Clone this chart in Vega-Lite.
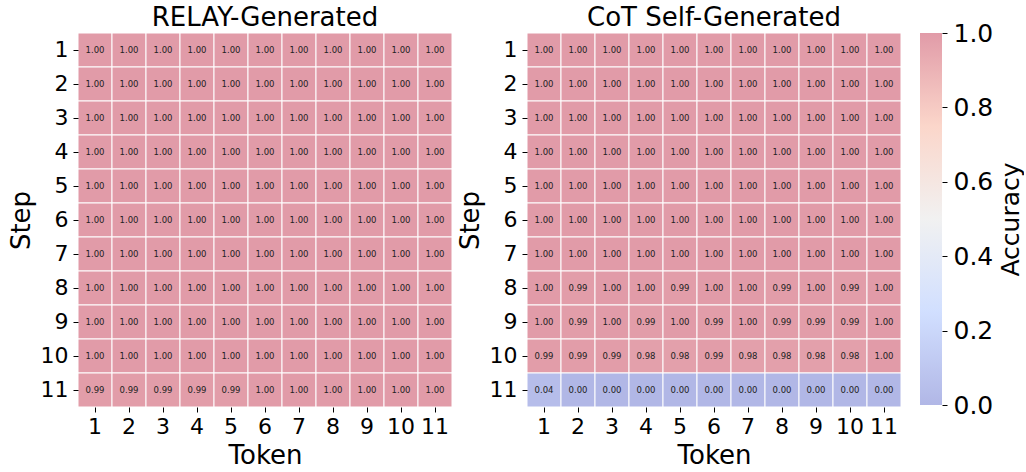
{
  "$schema": "https://vega.github.io/schema/vega-lite/v6.json",
  "background": "white",
  "padding": {"left": 8, "top": -4, "right": 0, "bottom": 0},
  "config": {
    "font": "DejaVu Sans",
    "view": {"stroke": null},
    "title": {"fontSize": 26, "fontWeight": "normal", "color": "black", "offset": 2},
    "axis": {"labelFontSize": 22, "titleFontSize": 26, "titleFontWeight": "normal", "labelColor": "black", "titleColor": "black", "tickColor": "black", "domain": false, "tickSize": 5, "labelPadding": 5}
  },
  "data": {"values": [
    {"p":"RELAY-Generated","s":1,"t":1,"v":1},{"p":"RELAY-Generated","s":1,"t":2,"v":1},{"p":"RELAY-Generated","s":1,"t":3,"v":1},{"p":"RELAY-Generated","s":1,"t":4,"v":1},{"p":"RELAY-Generated","s":1,"t":5,"v":1},{"p":"RELAY-Generated","s":1,"t":6,"v":1},{"p":"RELAY-Generated","s":1,"t":7,"v":1},{"p":"RELAY-Generated","s":1,"t":8,"v":1},{"p":"RELAY-Generated","s":1,"t":9,"v":1},{"p":"RELAY-Generated","s":1,"t":10,"v":1},{"p":"RELAY-Generated","s":1,"t":11,"v":1},
    {"p":"RELAY-Generated","s":2,"t":1,"v":1},{"p":"RELAY-Generated","s":2,"t":2,"v":1},{"p":"RELAY-Generated","s":2,"t":3,"v":1},{"p":"RELAY-Generated","s":2,"t":4,"v":1},{"p":"RELAY-Generated","s":2,"t":5,"v":1},{"p":"RELAY-Generated","s":2,"t":6,"v":1},{"p":"RELAY-Generated","s":2,"t":7,"v":1},{"p":"RELAY-Generated","s":2,"t":8,"v":1},{"p":"RELAY-Generated","s":2,"t":9,"v":1},{"p":"RELAY-Generated","s":2,"t":10,"v":1},{"p":"RELAY-Generated","s":2,"t":11,"v":1},
    {"p":"RELAY-Generated","s":3,"t":1,"v":1},{"p":"RELAY-Generated","s":3,"t":2,"v":1},{"p":"RELAY-Generated","s":3,"t":3,"v":1},{"p":"RELAY-Generated","s":3,"t":4,"v":1},{"p":"RELAY-Generated","s":3,"t":5,"v":1},{"p":"RELAY-Generated","s":3,"t":6,"v":1},{"p":"RELAY-Generated","s":3,"t":7,"v":1},{"p":"RELAY-Generated","s":3,"t":8,"v":1},{"p":"RELAY-Generated","s":3,"t":9,"v":1},{"p":"RELAY-Generated","s":3,"t":10,"v":1},{"p":"RELAY-Generated","s":3,"t":11,"v":1},
    {"p":"RELAY-Generated","s":4,"t":1,"v":1},{"p":"RELAY-Generated","s":4,"t":2,"v":1},{"p":"RELAY-Generated","s":4,"t":3,"v":1},{"p":"RELAY-Generated","s":4,"t":4,"v":1},{"p":"RELAY-Generated","s":4,"t":5,"v":1},{"p":"RELAY-Generated","s":4,"t":6,"v":1},{"p":"RELAY-Generated","s":4,"t":7,"v":1},{"p":"RELAY-Generated","s":4,"t":8,"v":1},{"p":"RELAY-Generated","s":4,"t":9,"v":1},{"p":"RELAY-Generated","s":4,"t":10,"v":1},{"p":"RELAY-Generated","s":4,"t":11,"v":1},
    {"p":"RELAY-Generated","s":5,"t":1,"v":1},{"p":"RELAY-Generated","s":5,"t":2,"v":1},{"p":"RELAY-Generated","s":5,"t":3,"v":1},{"p":"RELAY-Generated","s":5,"t":4,"v":1},{"p":"RELAY-Generated","s":5,"t":5,"v":1},{"p":"RELAY-Generated","s":5,"t":6,"v":1},{"p":"RELAY-Generated","s":5,"t":7,"v":1},{"p":"RELAY-Generated","s":5,"t":8,"v":1},{"p":"RELAY-Generated","s":5,"t":9,"v":1},{"p":"RELAY-Generated","s":5,"t":10,"v":1},{"p":"RELAY-Generated","s":5,"t":11,"v":1},
    {"p":"RELAY-Generated","s":6,"t":1,"v":1},{"p":"RELAY-Generated","s":6,"t":2,"v":1},{"p":"RELAY-Generated","s":6,"t":3,"v":1},{"p":"RELAY-Generated","s":6,"t":4,"v":1},{"p":"RELAY-Generated","s":6,"t":5,"v":1},{"p":"RELAY-Generated","s":6,"t":6,"v":1},{"p":"RELAY-Generated","s":6,"t":7,"v":1},{"p":"RELAY-Generated","s":6,"t":8,"v":1},{"p":"RELAY-Generated","s":6,"t":9,"v":1},{"p":"RELAY-Generated","s":6,"t":10,"v":1},{"p":"RELAY-Generated","s":6,"t":11,"v":1},
    {"p":"RELAY-Generated","s":7,"t":1,"v":1},{"p":"RELAY-Generated","s":7,"t":2,"v":1},{"p":"RELAY-Generated","s":7,"t":3,"v":1},{"p":"RELAY-Generated","s":7,"t":4,"v":1},{"p":"RELAY-Generated","s":7,"t":5,"v":1},{"p":"RELAY-Generated","s":7,"t":6,"v":1},{"p":"RELAY-Generated","s":7,"t":7,"v":1},{"p":"RELAY-Generated","s":7,"t":8,"v":1},{"p":"RELAY-Generated","s":7,"t":9,"v":1},{"p":"RELAY-Generated","s":7,"t":10,"v":1},{"p":"RELAY-Generated","s":7,"t":11,"v":1},
    {"p":"RELAY-Generated","s":8,"t":1,"v":1},{"p":"RELAY-Generated","s":8,"t":2,"v":1},{"p":"RELAY-Generated","s":8,"t":3,"v":1},{"p":"RELAY-Generated","s":8,"t":4,"v":1},{"p":"RELAY-Generated","s":8,"t":5,"v":1},{"p":"RELAY-Generated","s":8,"t":6,"v":1},{"p":"RELAY-Generated","s":8,"t":7,"v":1},{"p":"RELAY-Generated","s":8,"t":8,"v":1},{"p":"RELAY-Generated","s":8,"t":9,"v":1},{"p":"RELAY-Generated","s":8,"t":10,"v":1},{"p":"RELAY-Generated","s":8,"t":11,"v":1},
    {"p":"RELAY-Generated","s":9,"t":1,"v":1},{"p":"RELAY-Generated","s":9,"t":2,"v":1},{"p":"RELAY-Generated","s":9,"t":3,"v":1},{"p":"RELAY-Generated","s":9,"t":4,"v":1},{"p":"RELAY-Generated","s":9,"t":5,"v":1},{"p":"RELAY-Generated","s":9,"t":6,"v":1},{"p":"RELAY-Generated","s":9,"t":7,"v":1},{"p":"RELAY-Generated","s":9,"t":8,"v":1},{"p":"RELAY-Generated","s":9,"t":9,"v":1},{"p":"RELAY-Generated","s":9,"t":10,"v":1},{"p":"RELAY-Generated","s":9,"t":11,"v":1},
    {"p":"RELAY-Generated","s":10,"t":1,"v":1},{"p":"RELAY-Generated","s":10,"t":2,"v":1},{"p":"RELAY-Generated","s":10,"t":3,"v":1},{"p":"RELAY-Generated","s":10,"t":4,"v":1},{"p":"RELAY-Generated","s":10,"t":5,"v":1},{"p":"RELAY-Generated","s":10,"t":6,"v":1},{"p":"RELAY-Generated","s":10,"t":7,"v":1},{"p":"RELAY-Generated","s":10,"t":8,"v":1},{"p":"RELAY-Generated","s":10,"t":9,"v":1},{"p":"RELAY-Generated","s":10,"t":10,"v":1},{"p":"RELAY-Generated","s":10,"t":11,"v":1},
    {"p":"RELAY-Generated","s":11,"t":1,"v":0.99},{"p":"RELAY-Generated","s":11,"t":2,"v":0.99},{"p":"RELAY-Generated","s":11,"t":3,"v":0.99},{"p":"RELAY-Generated","s":11,"t":4,"v":0.99},{"p":"RELAY-Generated","s":11,"t":5,"v":0.99},{"p":"RELAY-Generated","s":11,"t":6,"v":1},{"p":"RELAY-Generated","s":11,"t":7,"v":1},{"p":"RELAY-Generated","s":11,"t":8,"v":1},{"p":"RELAY-Generated","s":11,"t":9,"v":1},{"p":"RELAY-Generated","s":11,"t":10,"v":1},{"p":"RELAY-Generated","s":11,"t":11,"v":1},
    {"p":"CoT Self-Generated","s":1,"t":1,"v":1},{"p":"CoT Self-Generated","s":1,"t":2,"v":1},{"p":"CoT Self-Generated","s":1,"t":3,"v":1},{"p":"CoT Self-Generated","s":1,"t":4,"v":1},{"p":"CoT Self-Generated","s":1,"t":5,"v":1},{"p":"CoT Self-Generated","s":1,"t":6,"v":1},{"p":"CoT Self-Generated","s":1,"t":7,"v":1},{"p":"CoT Self-Generated","s":1,"t":8,"v":1},{"p":"CoT Self-Generated","s":1,"t":9,"v":1},{"p":"CoT Self-Generated","s":1,"t":10,"v":1},{"p":"CoT Self-Generated","s":1,"t":11,"v":1},
    {"p":"CoT Self-Generated","s":2,"t":1,"v":1},{"p":"CoT Self-Generated","s":2,"t":2,"v":1},{"p":"CoT Self-Generated","s":2,"t":3,"v":1},{"p":"CoT Self-Generated","s":2,"t":4,"v":1},{"p":"CoT Self-Generated","s":2,"t":5,"v":1},{"p":"CoT Self-Generated","s":2,"t":6,"v":1},{"p":"CoT Self-Generated","s":2,"t":7,"v":1},{"p":"CoT Self-Generated","s":2,"t":8,"v":1},{"p":"CoT Self-Generated","s":2,"t":9,"v":1},{"p":"CoT Self-Generated","s":2,"t":10,"v":1},{"p":"CoT Self-Generated","s":2,"t":11,"v":1},
    {"p":"CoT Self-Generated","s":3,"t":1,"v":1},{"p":"CoT Self-Generated","s":3,"t":2,"v":1},{"p":"CoT Self-Generated","s":3,"t":3,"v":1},{"p":"CoT Self-Generated","s":3,"t":4,"v":1},{"p":"CoT Self-Generated","s":3,"t":5,"v":1},{"p":"CoT Self-Generated","s":3,"t":6,"v":1},{"p":"CoT Self-Generated","s":3,"t":7,"v":1},{"p":"CoT Self-Generated","s":3,"t":8,"v":1},{"p":"CoT Self-Generated","s":3,"t":9,"v":1},{"p":"CoT Self-Generated","s":3,"t":10,"v":1},{"p":"CoT Self-Generated","s":3,"t":11,"v":1},
    {"p":"CoT Self-Generated","s":4,"t":1,"v":1},{"p":"CoT Self-Generated","s":4,"t":2,"v":1},{"p":"CoT Self-Generated","s":4,"t":3,"v":1},{"p":"CoT Self-Generated","s":4,"t":4,"v":1},{"p":"CoT Self-Generated","s":4,"t":5,"v":1},{"p":"CoT Self-Generated","s":4,"t":6,"v":1},{"p":"CoT Self-Generated","s":4,"t":7,"v":1},{"p":"CoT Self-Generated","s":4,"t":8,"v":1},{"p":"CoT Self-Generated","s":4,"t":9,"v":1},{"p":"CoT Self-Generated","s":4,"t":10,"v":1},{"p":"CoT Self-Generated","s":4,"t":11,"v":1},
    {"p":"CoT Self-Generated","s":5,"t":1,"v":1},{"p":"CoT Self-Generated","s":5,"t":2,"v":1},{"p":"CoT Self-Generated","s":5,"t":3,"v":1},{"p":"CoT Self-Generated","s":5,"t":4,"v":1},{"p":"CoT Self-Generated","s":5,"t":5,"v":1},{"p":"CoT Self-Generated","s":5,"t":6,"v":1},{"p":"CoT Self-Generated","s":5,"t":7,"v":1},{"p":"CoT Self-Generated","s":5,"t":8,"v":1},{"p":"CoT Self-Generated","s":5,"t":9,"v":1},{"p":"CoT Self-Generated","s":5,"t":10,"v":1},{"p":"CoT Self-Generated","s":5,"t":11,"v":1},
    {"p":"CoT Self-Generated","s":6,"t":1,"v":1},{"p":"CoT Self-Generated","s":6,"t":2,"v":1},{"p":"CoT Self-Generated","s":6,"t":3,"v":1},{"p":"CoT Self-Generated","s":6,"t":4,"v":1},{"p":"CoT Self-Generated","s":6,"t":5,"v":1},{"p":"CoT Self-Generated","s":6,"t":6,"v":1},{"p":"CoT Self-Generated","s":6,"t":7,"v":1},{"p":"CoT Self-Generated","s":6,"t":8,"v":1},{"p":"CoT Self-Generated","s":6,"t":9,"v":1},{"p":"CoT Self-Generated","s":6,"t":10,"v":1},{"p":"CoT Self-Generated","s":6,"t":11,"v":1},
    {"p":"CoT Self-Generated","s":7,"t":1,"v":1},{"p":"CoT Self-Generated","s":7,"t":2,"v":1},{"p":"CoT Self-Generated","s":7,"t":3,"v":1},{"p":"CoT Self-Generated","s":7,"t":4,"v":1},{"p":"CoT Self-Generated","s":7,"t":5,"v":1},{"p":"CoT Self-Generated","s":7,"t":6,"v":1},{"p":"CoT Self-Generated","s":7,"t":7,"v":1},{"p":"CoT Self-Generated","s":7,"t":8,"v":1},{"p":"CoT Self-Generated","s":7,"t":9,"v":1},{"p":"CoT Self-Generated","s":7,"t":10,"v":1},{"p":"CoT Self-Generated","s":7,"t":11,"v":1},
    {"p":"CoT Self-Generated","s":8,"t":1,"v":1},{"p":"CoT Self-Generated","s":8,"t":2,"v":0.99},{"p":"CoT Self-Generated","s":8,"t":3,"v":1},{"p":"CoT Self-Generated","s":8,"t":4,"v":1},{"p":"CoT Self-Generated","s":8,"t":5,"v":0.99},{"p":"CoT Self-Generated","s":8,"t":6,"v":1},{"p":"CoT Self-Generated","s":8,"t":7,"v":1},{"p":"CoT Self-Generated","s":8,"t":8,"v":0.99},{"p":"CoT Self-Generated","s":8,"t":9,"v":1},{"p":"CoT Self-Generated","s":8,"t":10,"v":0.99},{"p":"CoT Self-Generated","s":8,"t":11,"v":1},
    {"p":"CoT Self-Generated","s":9,"t":1,"v":1},{"p":"CoT Self-Generated","s":9,"t":2,"v":0.99},{"p":"CoT Self-Generated","s":9,"t":3,"v":1},{"p":"CoT Self-Generated","s":9,"t":4,"v":0.99},{"p":"CoT Self-Generated","s":9,"t":5,"v":1},{"p":"CoT Self-Generated","s":9,"t":6,"v":0.99},{"p":"CoT Self-Generated","s":9,"t":7,"v":1},{"p":"CoT Self-Generated","s":9,"t":8,"v":0.99},{"p":"CoT Self-Generated","s":9,"t":9,"v":0.99},{"p":"CoT Self-Generated","s":9,"t":10,"v":0.99},{"p":"CoT Self-Generated","s":9,"t":11,"v":1},
    {"p":"CoT Self-Generated","s":10,"t":1,"v":0.99},{"p":"CoT Self-Generated","s":10,"t":2,"v":0.99},{"p":"CoT Self-Generated","s":10,"t":3,"v":0.99},{"p":"CoT Self-Generated","s":10,"t":4,"v":0.98},{"p":"CoT Self-Generated","s":10,"t":5,"v":0.98},{"p":"CoT Self-Generated","s":10,"t":6,"v":0.99},{"p":"CoT Self-Generated","s":10,"t":7,"v":0.98},{"p":"CoT Self-Generated","s":10,"t":8,"v":0.98},{"p":"CoT Self-Generated","s":10,"t":9,"v":0.98},{"p":"CoT Self-Generated","s":10,"t":10,"v":0.98},{"p":"CoT Self-Generated","s":10,"t":11,"v":1},
    {"p":"CoT Self-Generated","s":11,"t":1,"v":0.04},{"p":"CoT Self-Generated","s":11,"t":2,"v":0},{"p":"CoT Self-Generated","s":11,"t":3,"v":0},{"p":"CoT Self-Generated","s":11,"t":4,"v":0},{"p":"CoT Self-Generated","s":11,"t":5,"v":0},{"p":"CoT Self-Generated","s":11,"t":6,"v":0},{"p":"CoT Self-Generated","s":11,"t":7,"v":0},{"p":"CoT Self-Generated","s":11,"t":8,"v":0},{"p":"CoT Self-Generated","s":11,"t":9,"v":0},{"p":"CoT Self-Generated","s":11,"t":10,"v":0},{"p":"CoT Self-Generated","s":11,"t":11,"v":0}
  ]},
  "spacing": 18,
  "hconcat": [
    {
      "spacing": 4,
      "hconcat": [
        {
          "title": "RELAY-Generated",
          "width": 374,
          "height": 374,
          "transform": [{"filter": "datum.p === 'RELAY-Generated'"}],
          "encoding": {
            "x": {"field": "t", "type": "ordinal", "title": "Token", "axis": {"labelAngle": 0, "titlePadding": 5, "labelPadding": 4}},
            "y": {"field": "s", "type": "ordinal", "title": "Step", "axis": {"titlePadding": 6}}
          },
          "layer": [
            {
              "mark": {"type": "rect", "stroke": "white", "strokeWidth": 1},
              "encoding": {
                "color": {"field": "v", "type": "quantitative", "legend": null,
                  "scale": {"domain": [0, 1], "range": ["#b1b7e6", "#d1dfff", "#f1f1f1", "#fbd6ca", "#e19ba8"], "interpolate": "rgb"}}
              }
            },
            {
              "mark": {"type": "text", "fontSize": 8.5, "color": "#222222"},
              "encoding": {"text": {"field": "v", "type": "quantitative", "format": ".2f"}}
            }
          ]
        },
        {
          "title": "CoT Self-Generated",
          "width": 374,
          "height": 374,
          "transform": [{"filter": "datum.p === 'CoT Self-Generated'"}],
          "encoding": {
            "x": {"field": "t", "type": "ordinal", "title": "Token", "axis": {"labelAngle": 0, "titlePadding": 5, "labelPadding": 4}},
            "y": {"field": "s", "type": "ordinal", "title": "Step", "axis": {"titlePadding": 6}}
          },
          "layer": [
            {
              "mark": {"type": "rect", "stroke": "white", "strokeWidth": 1},
              "encoding": {
                "color": {"field": "v", "type": "quantitative", "legend": null,
                  "scale": {"domain": [0, 1], "range": ["#b1b7e6", "#d1dfff", "#f1f1f1", "#fbd6ca", "#e19ba8"], "interpolate": "rgb"}}
              }
            },
            {
              "mark": {"type": "text", "fontSize": 8.5, "color": "#222222"},
              "encoding": {"text": {"field": "v", "type": "quantitative", "format": ".2f"}}
            }
          ]
        }
      ]
    },
    {
      "title": {"text": " ", "offset": -1},
      "width": 22,
      "height": 372,
      "data": {"values": [{"lo": 0, "hi": 1}]},
      "mark": {"type": "rect", "color": {"gradient": "linear", "x1": 0, "y1": 1, "x2": 0, "y2": 0,
        "stops": [{"offset": 0, "color": "#b1b7e6"}, {"offset": 0.25, "color": "#d1dfff"}, {"offset": 0.5, "color": "#f1f1f1"}, {"offset": 0.75, "color": "#fbd6ca"}, {"offset": 1, "color": "#e19ba8"}]}},
      "encoding": {
        "y": {"field": "lo", "type": "quantitative", "scale": {"domain": [0, 1], "nice": false},
          "axis": {"orient": "right", "values": [0, 0.2, 0.4, 0.6, 0.8, 1], "format": ".1f", "title": "Accuracy", "titleAngle": -90, "titleBaseline": "top",
            "labelFontSize": 25, "titleFontSize": 25, "grid": false, "tickSize": 5, "labelPadding": 6, "titlePadding": 6, "labelFlush": false}},
        "y2": {"field": "hi"}
      }
    }
  ],
  "resolve": {"scale": {"color": "shared"}}
}
